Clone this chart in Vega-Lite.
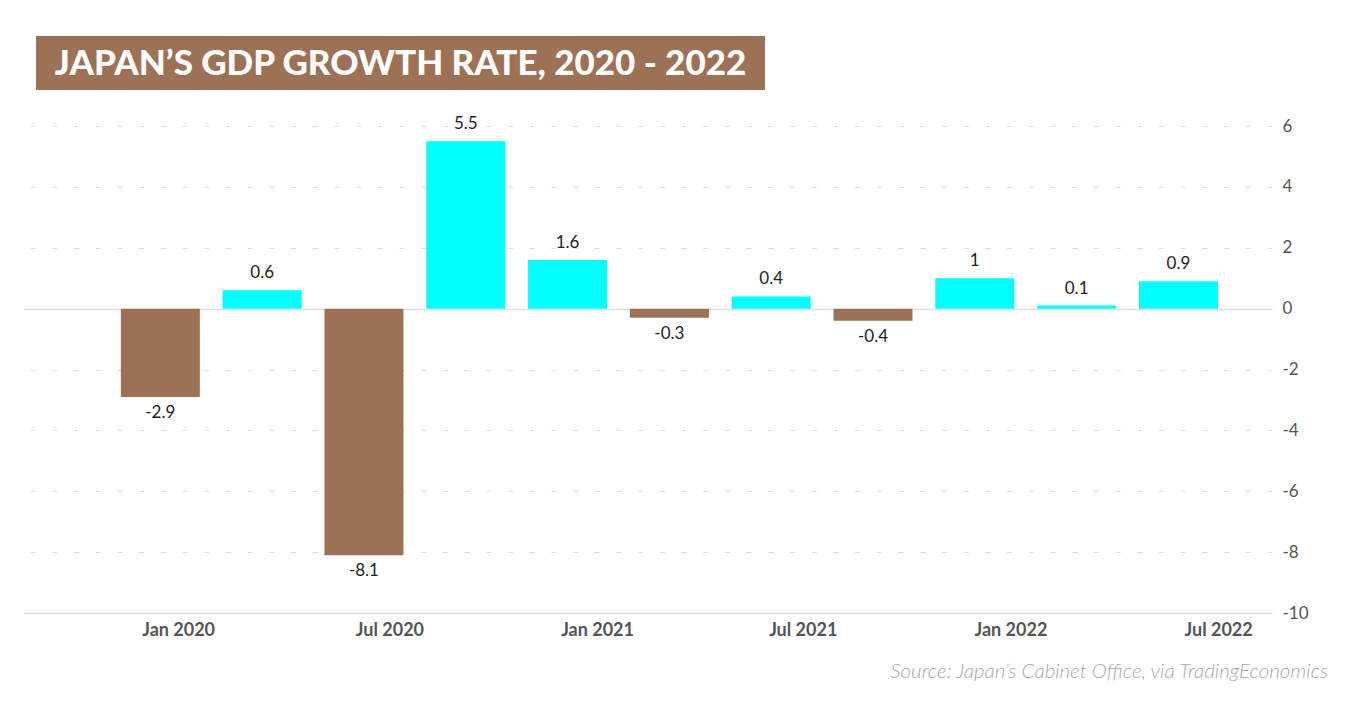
{
  "$schema": "https://vega.github.io/schema/vega-lite/v6.json",
  "background": "white",
  "padding": {"left": 24, "top": 36, "right": 0, "bottom": 0},
  "config": {
    "view": {"stroke": null},
    "font": "Lato",
    "locale": {"number": {"decimal": ".", "thousands": ",", "grouping": [3], "currency": ["$", ""], "minus": "-"}}
  },
  "spacing": 25,
  "vconcat": [
    {
      "spacing": 11,
      "hconcat": [
        {
          "width": 1,
          "height": 54,
          "data": {"values": [{"t": ""}]},
          "mark": {"type": "text"},
          "encoding": {"text": {"field": "t"}}
        },
        {
          "width": 729,
          "height": 54,
          "view": {"fill": "#9d7155", "stroke": null},
          "data": {"values": [{"t": "JAPAN’S GDP GROWTH RATE, 2020 - 2022"}]},
          "mark": {"type": "text", "color": "white", "font": "Lato", "fontWeight": 900, "fontSize": 35, "align": "center", "baseline": "middle", "dy": 1},
          "encoding": {"text": {"field": "t"}}
        }
      ]
    },
    {
      "width": 1248,
      "height": 487,
      "title": {
        "text": "Source: Japan’s Cabinet Office, via TradingEconomics",
        "orient": "bottom",
        "anchor": "end",
        "frame": "bounds",
        "fontStyle": "italic",
        "fontWeight": 300,
        "fontSize": 20.5,
        "color": "#a8a8a8",
        "font": "Lato",
        "offset": 23,
        "dx": 20
      },
      "data": {
        "values": [
          {"i": 0, "quarter": "Q1 2020", "value": -2.9},
          {"i": 1, "quarter": "Q2 2020", "value": 0.6},
          {"i": 2, "quarter": "Q3 2020", "value": -8.1},
          {"i": 3, "quarter": "Q4 2020", "value": 5.5},
          {"i": 4, "quarter": "Q1 2021", "value": 1.6},
          {"i": 5, "quarter": "Q2 2021", "value": -0.3},
          {"i": 6, "quarter": "Q3 2021", "value": 0.4},
          {"i": 7, "quarter": "Q4 2021", "value": -0.4},
          {"i": 8, "quarter": "Q1 2022", "value": 1},
          {"i": 9, "quarter": "Q2 2022", "value": 0.1},
          {"i": 10, "quarter": "Q3 2022", "value": 0.9}
        ]
      },
      "encoding": {
        "x": {
          "field": "i",
          "type": "quantitative",
          "scale": {"domain": [-1.29, 10.87], "nice": false, "zero": false},
          "axis": {
            "title": null,
            "orient": "bottom",
            "values": [0.175, 2.25, 4.29, 6.31, 8.35, 10.39],
            "labelExpr": "['Jan 2020','Jul 2020','Jan 2021','Jul 2021','Jan 2022','Jul 2022'][round(datum.value/2)]",
            "grid": false,
            "ticks": false,
            "domain": false,
            "labelFont": "Lato",
            "labelFontWeight": "bold",
            "labelFontSize": 18,
            "labelColor": "#555555",
            "labelPadding": 8,
            "labelBaseline": "top"
          }
        },
        "y": {
          "field": "value",
          "type": "quantitative",
          "scale": {"domain": [-10, 6], "nice": false},
          "axis": {
            "title": null,
            "orient": "right",
            "values": [-10, -8, -6, -4, -2, 0, 2, 4, 6],
            "ticks": false,
            "domain": false,
            "grid": true,
            "gridColor": "#dddddd",
            "gridWidth": {"condition": {"test": "datum.value === 0 || datum.value === -10", "value": 1.5}, "value": 1},
            "gridDash": {"condition": {"test": "datum.value === 0 || datum.value === -10", "value": []}, "value": [5, 16.7]},
            "labelFont": "Lato",
            "labelFontSize": 17,
            "labelColor": "#555555",
            "labelPadding": 10,
            "labelAlign": "left"
          }
        }
      },
      "layer": [
        {
          "mark": {"type": "bar", "width": 79},
          "encoding": {
            "color": {
              "condition": {"test": "datum.value < 0", "value": "#9d7155"},
              "value": "#00ffff"
            }
          }
        },
        {
          "transform": [{"filter": "datum.value >= 0"}],
          "mark": {"type": "text", "baseline": "alphabetic", "align": "center", "dy": -12, "fontSize": 17, "color": "#222222", "font": "Lato"},
          "encoding": {"text": {"field": "value", "type": "quantitative"}}
        },
        {
          "transform": [{"filter": "datum.value < 0"}],
          "mark": {"type": "text", "baseline": "top", "align": "center", "dy": 8, "fontSize": 17, "color": "#222222", "font": "Lato"},
          "encoding": {"text": {"field": "value", "type": "quantitative"}}
        }
      ]
    }
  ]
}
